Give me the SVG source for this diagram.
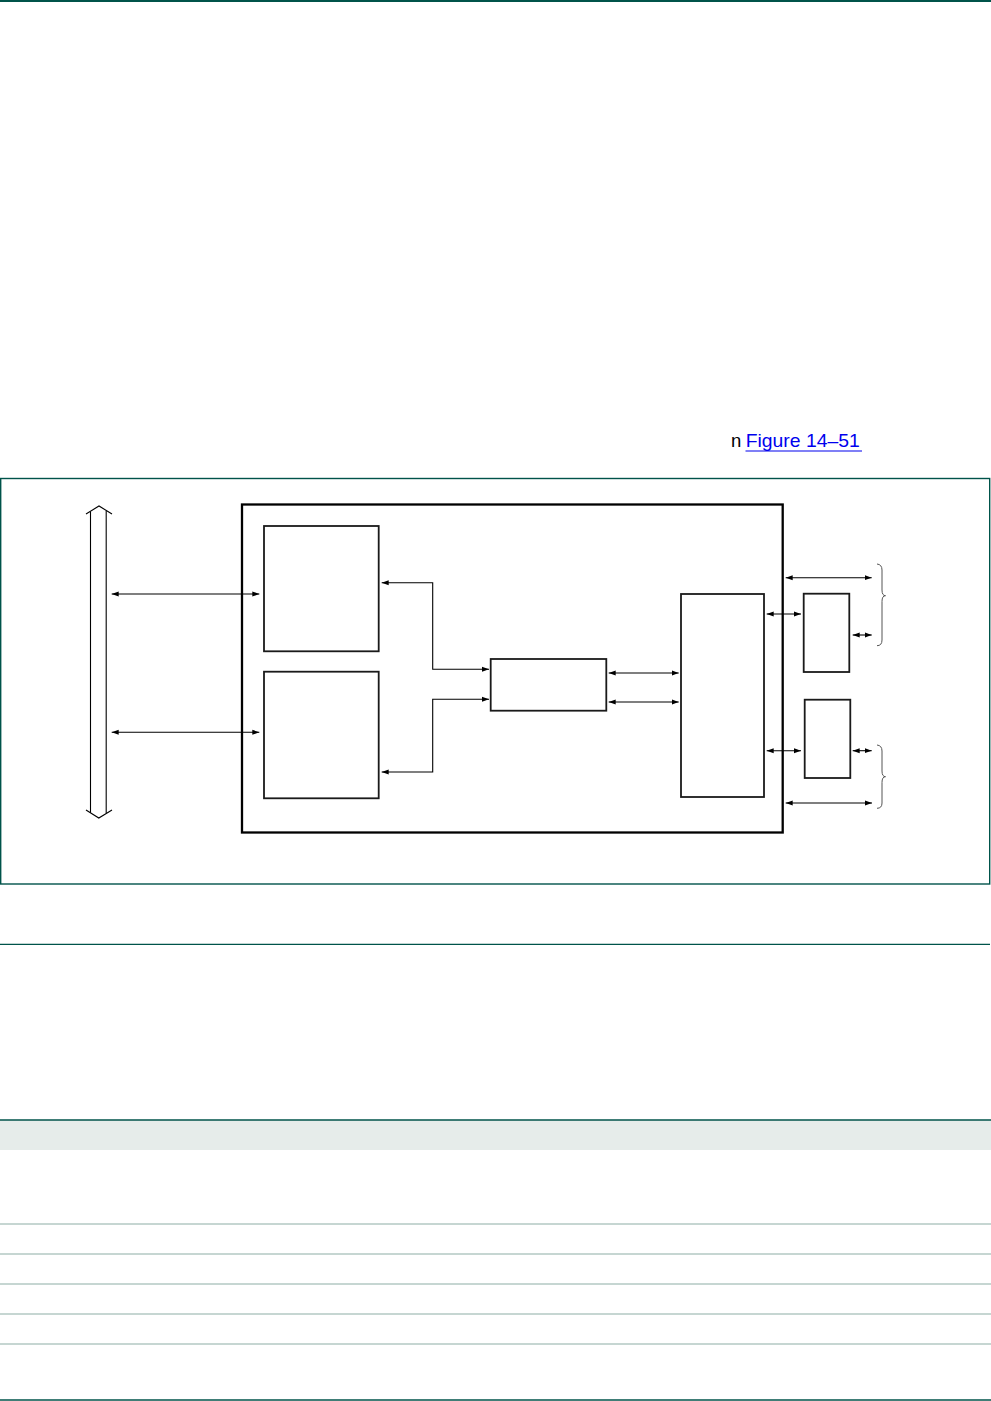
<svg xmlns="http://www.w3.org/2000/svg" width="991" height="1401" viewBox="0 0 991 1401">
<style>
.page{fill:none;stroke:#00534a}
.box{fill:none;stroke:#1a1a1a;stroke-width:1.8}
.outer{fill:none;stroke:#000;stroke-width:2.3}
.con{fill:none;stroke:#000;stroke-width:1.1;marker-start:url(#ah);marker-end:url(#ah)}
.bus{fill:none;stroke:#000;stroke-width:1.1}
.brace{fill:none;stroke:#555;stroke-width:1}
.rowline{stroke:#b3c9c3;stroke-width:1.3}
</style>
<defs>
<marker id="ah" markerUnits="userSpaceOnUse" markerWidth="8" markerHeight="6" refX="7" refY="3" orient="auto-start-reverse">
<path d="M0,0.5 L7,3 L0,5.5 z" fill="#000"/>
</marker>
</defs>
<rect width="991" height="1401" fill="#fff"/>
<g id="page">
<line x1="0" y1="1" x2="991" y2="1" stroke="#00534a" stroke-width="2"/>
<text x="731" y="447" font-family="Liberation Sans, Arial, sans-serif" font-size="18.5" fill="#000">n</text>
<text x="745.7" y="447" font-family="Liberation Sans, Arial, sans-serif" font-size="18.5" fill="#0000ee" textLength="114" lengthAdjust="spacingAndGlyphs">Figure 14–51</text>
<line x1="745.5" y1="451" x2="862" y2="451" stroke="#0000ee" stroke-width="1.2"/>
<rect class="page" x="0.7" y="478.5" width="989" height="405.5" stroke-width="1.4"/>
<line x1="0" y1="944.3" x2="990" y2="944.3" stroke="#00534a" stroke-width="1.3"/>
<rect x="0" y="1120" width="991" height="30" fill="#e6ecea"/>
<line x1="0" y1="1120" x2="991" y2="1120" stroke="#00534a" stroke-width="1.3"/>
<line class="rowline" x1="0" y1="1224" x2="991" y2="1224"/>
<line class="rowline" x1="0" y1="1254" x2="991" y2="1254"/>
<line class="rowline" x1="0" y1="1284" x2="991" y2="1284"/>
<line class="rowline" x1="0" y1="1314" x2="991" y2="1314"/>
<line class="rowline" x1="0" y1="1344" x2="991" y2="1344"/>
<line x1="0" y1="1400" x2="991" y2="1400" stroke="#00534a" stroke-width="1.6"/>
</g>
<g id="bus">
<polyline class="bus" points="86,514 99,506 112,514"/>
<line class="bus" x1="90.5" y1="511.4" x2="90.5" y2="812.7"/>
<line class="bus" x1="106.2" y1="511" x2="106.2" y2="813"/>
<polyline class="bus" points="86,810 98.8,818 112,810"/>
</g>
<g id="outer-block"><rect class="outer" x="242" y="504.5" width="540.7" height="328"/></g>
<g id="block-1"><rect class="box" x="264" y="526" width="114.7" height="125.3"/></g>
<g id="block-2"><rect class="box" x="264" y="671.7" width="114.7" height="126.6"/></g>
<g id="middle-block"><rect class="box" x="490.7" y="659" width="115.6" height="51.7"/></g>
<g id="right-block"><rect class="box" x="681" y="594" width="83" height="203"/></g>
<g id="small-block-1"><rect class="box" x="803.7" y="593.7" width="45.6" height="78.3"/></g>
<g id="small-block-2"><rect class="box" x="804.7" y="699.7" width="45.6" height="78.3"/></g>
<g id="braces">
<path class="brace" d="M877,564 Q882,564.5 882,570 V590 Q882,595.7 885.5,595.7 Q882,595.7 882,601.5 V640 Q882,645.7 877,645.7"/>
<path class="brace" d="M877,745 Q882,745.5 882,751 V771 Q882,776.7 885.5,776.7 Q882,776.7 882,782.5 V803 Q882,808.3 877,808.3"/>
</g>
<g id="connectors">
<line class="con" x1="111.7" y1="594" x2="259.3" y2="594"/>
<line class="con" x1="111.7" y1="732.3" x2="259.3" y2="732.3"/>
<path class="con" d="M381.7,582.7 H432.7 V669.3 H489"/>
<path class="con" d="M381.7,772 H432.7 V699.3 H489"/>
<line class="con" x1="608.7" y1="673" x2="678.7" y2="673"/>
<line class="con" x1="608.7" y1="702" x2="678.7" y2="702"/>
<line class="con" x1="766.7" y1="614" x2="801" y2="614"/>
<line class="con" x1="852.7" y1="635" x2="871.7" y2="635"/>
<line class="con" x1="785.7" y1="577.7" x2="871.7" y2="577.7"/>
<line class="con" x1="766.7" y1="750.7" x2="801" y2="750.7"/>
<line class="con" x1="852.7" y1="750.7" x2="871.7" y2="750.7"/>
<line class="con" x1="785.7" y1="803" x2="872" y2="803"/>
</g>
</svg>
